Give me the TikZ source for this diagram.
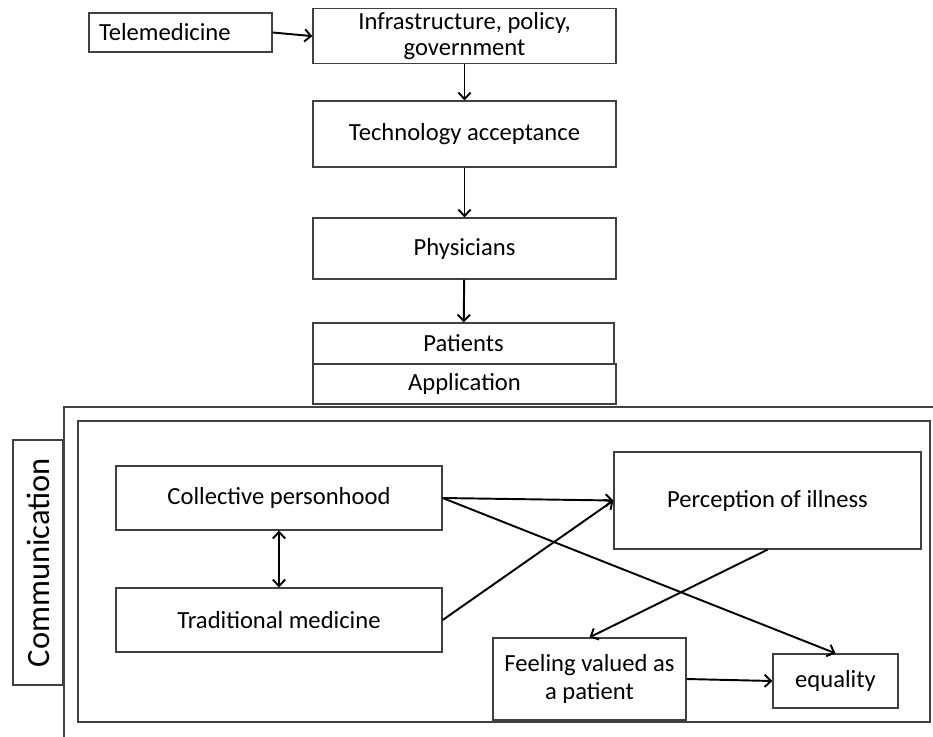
\documentclass[tikz,border=0pt]{standalone}
\usepackage{fontspec}
\setmainfont{Carlito}
\usepackage{tikz}
\usetikzlibrary{arrows.meta,positioning}
\definecolor{boxgray}{RGB}{64,64,64}

\begin{document}
\begin{tikzpicture}[
  every node/.style={font=\fontsize{14}{15}\selectfont, align=center, inner sep=0pt},
  box/.style={draw=boxgray, fill=white, line width=0.75pt},
  frame/.style={draw=boxgray, line width=0.75pt},
  arrow/.style={-{Straight Barb[length=3.6pt,width=7pt]}, line width=1.1pt, black},
  twoway/.style={{Straight Barb[length=3.6pt,width=7pt]}-{Straight Barb[length=3.6pt,width=7pt]}, line width=1.1pt, black}
]
  \useasboundingbox (0,0) rectangle (18.66,-14.72);

  % Frames
  \draw [frame] (1.28,-14.80) -- (1.28,-8.14) -- (18.70,-8.14);
  \draw [frame] (1.56,-8.42) rectangle (18.60,-14.44);

  % Nodes
  \node (tele) [box, minimum width=3.66cm, minimum height=0.78cm, text width=3.26cm, align=left, inner xsep=0.2cm] at (3.61,-0.65) {Telemedicine};
  \node (infra) [box, minimum width=6.06cm, minimum height=1.10cm, yshift=-1.5pt] at (9.29,-0.67) {Infrastructure, policy,\\government};
  \node (tech) [box, minimum width=6.06cm, minimum height=1.32cm] at (9.29,-2.68) {Technology acceptance};
  \node (phys) [box, minimum width=6.06cm, minimum height=1.22cm] at (9.29,-4.97) {Physicians};
  \node (patients) [box, minimum width=6.02cm, minimum height=0.82cm] at (9.27,-6.87) {Patients};
  \node (app) [box, minimum width=6.06cm, minimum height=0.80cm] at (9.29,-7.68) {Application};

  \node (comm) [box, rotate=90, minimum width=4.9cm, minimum height=1.0cm, font=\fontsize{18.5}{21}\selectfont] at (0.76,-11.25) {Communication};

  \node (coll) [box, minimum width=6.52cm, minimum height=1.28cm] at (5.58,-9.96) {Collective personhood};
  \node (trad) [box, minimum width=6.52cm, minimum height=1.28cm] at (5.58,-12.40) {Traditional medicine};
  \node (perc) [box, minimum width=6.14cm, minimum height=1.94cm] at (15.35,-10.01) {Perception of illness};
  \node (feel) [box, minimum width=3.86cm, minimum height=1.64cm, font=\fontsize{14}{15.8}\selectfont] at (11.79,-13.58) {Feeling valued as\\a patient};
  \node (eq) [box, minimum width=2.50cm, minimum height=1.08cm] at (16.71,-13.62) {equality};

  % Paths
  \draw [arrow] (tele.east) -- (infra.west);
  \draw [arrow] (infra.south) -- (tech.north);
  \draw [arrow] (tech) -- (phys);
  \draw [arrow] (phys) -- (patients);

  \draw [twoway] (coll) -- (trad);
  \draw [arrow] (coll.east) -- (perc.west);
  \draw [arrow] (coll.east) -- (eq.north);
  \draw [arrow] (trad.east) -- (perc.west);
  \draw [arrow] (perc.south) -- (feel.north);
  \draw [arrow] (feel.east) -- (eq.west);
\end{tikzpicture}
\end{document}
